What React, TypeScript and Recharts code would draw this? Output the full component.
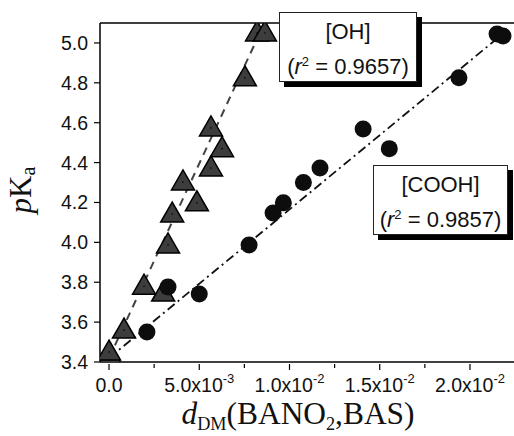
import React from 'react'
import { ComposedChart, Scatter, XAxis, YAxis, ReferenceLine } from 'recharts'

// [OH] series (triangles)
const ohX = [0.00005, 0.0, 0.00083, 0.00194, 0.003, 0.00327, 0.0035, 0.0041, 0.00487, 0.00565, 0.00565, 0.00626, 0.00753, 0.0082, 0.00864]
const ohY = [3.43, 3.45, 3.56, 3.78, 3.746, 3.987, 4.142, 4.303, 4.198, 4.373, 4.574, 4.47, 4.825, 5.05, 5.05]

// [COOH] series (circles)
const coohX = [0.0021, 0.00327, 0.005, 0.00776, 0.00909, 0.00966, 0.01077, 0.01169, 0.01408, 0.01553, 0.01939, 0.0215, 0.02183]
const coohY = [3.55, 3.776, 3.741, 3.987, 4.147, 4.198, 4.3, 4.373, 4.568, 4.47, 4.825, 5.045, 5.035]

// linear fits
const ohFit = { a: 3.42, b: 195 }
const coohFit = { a: 3.42, b: 74.5 }

const xMajor = [0, 0.005, 0.01, 0.015, 0.02]
const xLabels = [['0.0', ''], ['5.0x10', '-3'], ['1.0x10', '-2'], ['1.5x10', '-2'], ['2.0x10', '-2']]
const xTicks = [0, 0.0025, 0.005, 0.0075, 0.01, 0.0125, 0.015, 0.0175, 0.02]
const yTicks = [3.4, 3.5, 3.6, 3.7, 3.8, 3.9, 4.0, 4.1, 4.2, 4.3, 4.4, 4.5, 4.6, 4.7, 4.8, 4.9, 5.0]

const ohData = ohX.map((x, i) => ({ x, y: ohY[i] }))
const coohData = coohX.map((x, i) => ({ x, y: coohY[i] }))

const sans = 'Arial, "Liberation Sans", sans-serif'
const serif = '"Liberation Serif", "Times New Roman", serif'

const Triangle = (props: any) => {
  const { cx, cy } = props
  const h = 20, w = 23
  return (
    <g>
      <polygon points={`${cx},${cy - h * 0.6} ${cx - w / 2},${cy + h * 0.4} ${cx + w / 2},${cy + h * 0.4}`} fill="#3d3d3d" stroke="#000" strokeWidth={1.5} />
      <circle cx={cx} cy={cy} r={0.8} fill="#000" />
    </g>
  )
}

const Dot = (props: any) => <circle cx={props.cx} cy={props.cy} r={8.5} fill="#0d0d0d" />

const YTick = (props: any) => {
  const { x, y, payload } = props
  const v = payload.value
  const major = Math.abs(Math.round(v * 5) - v * 5) < 1e-6
  return (
    <g>
      <line x1={x - (major ? 6 : 4)} x2={x} y1={y} y2={y} stroke="#000" strokeWidth={1.2} />
      {major && (
        <text x={x - 12} y={y + 7} textAnchor="end" fontSize={19.5} fontFamily={sans} fill="#111">{v.toFixed(1)}</text>
      )}
    </g>
  )
}

const XTick = (props: any) => {
  const { x, y, payload } = props
  const idx = xMajor.findIndex((m) => Math.abs(m - payload.value) < 1e-9)
  const major = idx >= 0
  return (
    <g>
      <line x1={x} x2={x} y1={y} y2={y + (major ? 6 : 4)} stroke="#000" strokeWidth={1.2} />
      {major && (
        <text x={x} y={y + 28} textAnchor="middle" fontSize={19.5} fontFamily={sans} fill="#111">
          {xLabels[idx][0]}
          {xLabels[idx][1] && <tspan dy={-9} fontSize={13}>{xLabels[idx][1]}</tspan>}
        </text>
      )}
    </g>
  )
}

const boxStyle: React.CSSProperties = {
  position: 'absolute', background: '#fff', border: '1px solid #222', boxShadow: '5px 5px 0 #000',
  fontFamily: sans, fontSize: 22, color: '#111', textAlign: 'center', lineHeight: '30px', boxSizing: 'border-box',
}

export default function App() {
  return (
    <div style={{ position: 'absolute', left: 0, top: 0, width: 514, height: 436, background: '#fff', overflow: 'hidden' }}>
      <ComposedChart width={514} height={436} margin={{ top: 23, right: 0, left: 0, bottom: 0 }}>
        <XAxis type="number" dataKey="x" domain={[-0.0005, 0.02244]} ticks={xTicks} tick={<XTick />} tickLine={false}
          tickSize={0} height={74} stroke="#000" strokeWidth={1.5} allowDataOverflow />
        <YAxis type="number" dataKey="y" domain={[3.4, 5.1]} ticks={yTicks} tick={<YTick />} tickLine={false}
          tickSize={0} tickMargin={0} width={100} stroke="#000" strokeWidth={1.5} allowDataOverflow />
        <ReferenceLine y={5.1} stroke="#000" strokeWidth={1.5} />
        <ReferenceLine segment={[{ x: 0, y: ohFit.a }, { x: (5.1 - ohFit.a) / ohFit.b, y: 5.1 }]} stroke="#444" strokeWidth={2} strokeDasharray="8 6" />
        <Scatter data={ohData} shape={<Triangle />} isAnimationActive={false} />
        <ReferenceLine segment={[{ x: 0, y: coohFit.a }, { x: 0.0219, y: coohFit.a + coohFit.b * 0.0219 }]} stroke="#111" strokeWidth={1.8} strokeDasharray="9 4 2 4" />
        <Scatter data={coohData} shape={<Dot />} isAnimationActive={false} />
      </ComposedChart>
      <div style={{ ...boxStyle, left: 279, top: 12, width: 138, height: 70, paddingTop: 4 }}>
        [OH]<br />(<i>r</i><sup style={{ fontSize: 13 }}>2</sup> = 0.9657)
      </div>
      <div style={{ ...boxStyle, left: 373, top: 165, width: 135, height: 70, paddingTop: 4 }}>
        [COOH]<br />(<i>r</i><sup style={{ fontSize: 13 }}>2</sup> = 0.9857)
      </div>
      <svg style={{ position: 'absolute', left: 0, top: 0 }} width={514} height={436} pointerEvents="none">
        <text transform="translate(31,190) rotate(-90)" textAnchor="middle" fontFamily={serif} fontSize={31} fill="#111">
          <tspan fontStyle="italic">p</tspan>K<tspan fontSize={20} dy={4}>a</tspan>
        </text>
        <text x={298} y={424} textAnchor="middle" fontFamily={serif} fontSize={31} fill="#111" textLength={233} lengthAdjust="spacingAndGlyphs">
          <tspan fontStyle="italic">d</tspan><tspan fontSize={18} dy={6}>DM</tspan><tspan dy={-6}>(BANO</tspan><tspan fontSize={18} dy={6}>2</tspan><tspan dy={-6}>,BAS)</tspan>
        </text>
      </svg>
    </div>
  )
}
